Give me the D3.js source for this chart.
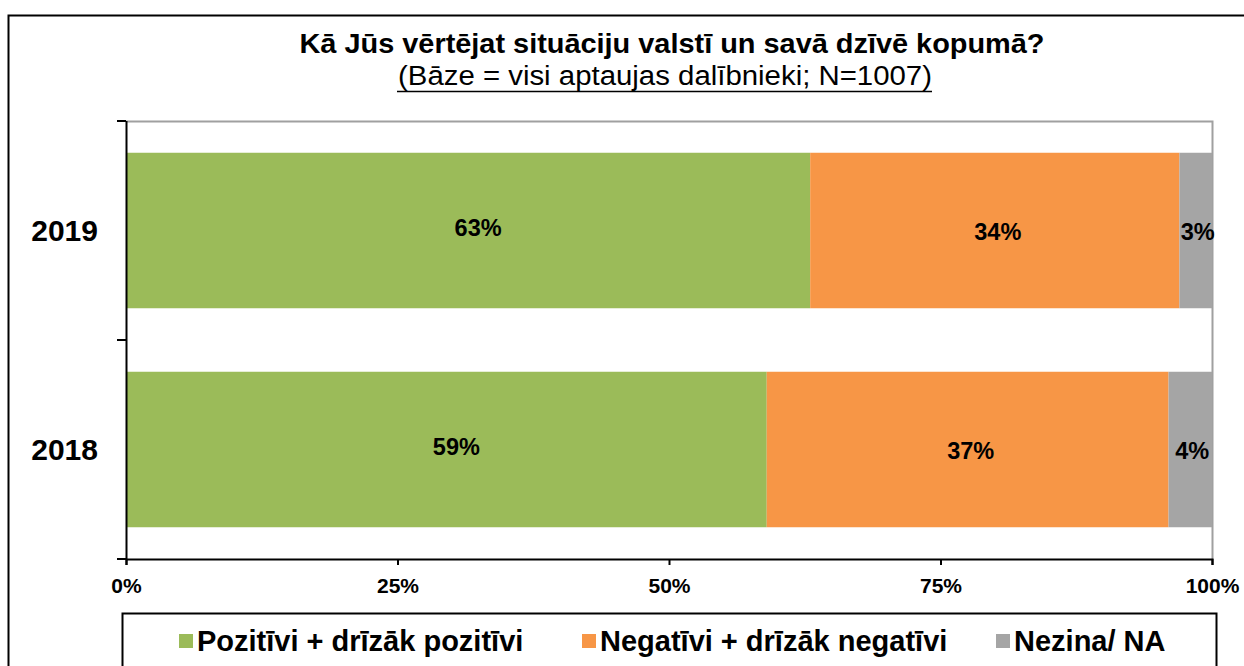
<!DOCTYPE html>
<html>
<head>
<meta charset="utf-8">
<script src="https://cdn.jsdelivr.net/npm/d3@7"></script>
<style>
  html, body { margin: 0; padding: 0; background: #fff; }
  svg { display: block; font-family: "Liberation Sans", Arial, sans-serif; }
</style>
</head>
<body>
<svg id="chart" width="1244" height="666"></svg>
<script>
// Survey answers by year, shares in percent
const years = ["2019", "2018"];
const seriesNames = ["Pozitīvi + drīzāk pozitīvi", "Negatīvi + drīzāk negatīvi", "Nezina/ NA"];
const positive = [63, 59];
const negative = [34, 37];
const unknown = [3, 4];
const xTicks = [0, 25, 50, 75, 100];
const colors = ["#9BBB59", "#F79646", "#A5A5A5"];

const titleText = "Kā Jūs vērtējat situāciju valstī un savā dzīvē kopumā?";
const subtitleText = "(Bāze = visi aptaujas dalībnieki;  N=1007)";

const rows = years.map((y, i) => ({ year: y, v: [positive[i], negative[i], unknown[i]] }));

const svg = d3.select("#chart");
const W = 1244, H = 666;
const plot = { left: 126, right: 1212, top: 121, bottom: 559 };

// outer frame (runs off the right and bottom edges)
svg.append("rect")
  .attr("x", 8.5).attr("y", 15.5).attr("width", W).attr("height", H)
  .attr("fill", "none").attr("stroke", "#000").attr("stroke-width", 2);

// titles: condensed type, fitted to a fixed width
svg.append("text")
  .attr("x", 672).attr("y", 53)
  .attr("text-anchor", "middle")
  .attr("font-weight", "bold").attr("font-size", 28)
  .attr("textLength", 745).attr("lengthAdjust", "spacingAndGlyphs")
  .text(titleText);

svg.append("text")
  .attr("x", 665).attr("y", 85)
  .attr("text-anchor", "middle")
  .attr("font-size", 27)
  .attr("textLength", 534).attr("lengthAdjust", "spacingAndGlyphs")
  .text(subtitleText);
svg.append("line")
  .attr("x1", 397).attr("x2", 932).attr("y1", 91.5).attr("y2", 91.5)
  .attr("stroke", "#000").attr("stroke-width", 1.3);

const x = d3.scaleLinear().domain([0, 100]).range([plot.left, plot.right]);
const y = d3.scaleBand().domain(years).range([plot.top, plot.bottom])
  .paddingInner(0.29).paddingOuter(0.145);

// plot area border (top and right in grey)
svg.append("path")
  .attr("d", `M${plot.left},${plot.top + 0.5}H${plot.right + 0.5}V${plot.bottom}`)
  .attr("fill", "none").attr("stroke", "#A0A0A0").attr("stroke-width", 2);

// stacked bars with centred value labels
const labelShift = [10, 3, 2];
const labelLift = [-3, 1, 1];
rows.forEach(r => {
  let acc = 0;
  r.v.forEach((val, k) => {
    const x0 = x(acc), x1 = x(acc + val);
    svg.append("rect")
      .attr("x", x0).attr("y", y(r.year))
      .attr("width", x1 - x0).attr("height", y.bandwidth())
      .attr("fill", colors[k]);
    svg.append("text")
      .attr("x", (x0 + x1) / 2 + labelShift[k])
      .attr("y", y(r.year) + y.bandwidth() / 2 + labelLift[k])
      .attr("dy", "0.36em")
      .attr("text-anchor", "middle")
      .attr("font-weight", "bold").attr("font-size", 23.5)
      .text(val + "%");
    acc += val;
  });
});

// category axis
const yAxisG = svg.append("g");
yAxisG.append("line")
  .attr("x1", plot.left + 0.5).attr("x2", plot.left + 0.5)
  .attr("y1", plot.top).attr("y2", plot.bottom)
  .attr("stroke", "#000").attr("stroke-width", 2);
const bounds = [plot.top, (plot.top + plot.bottom) / 2, plot.bottom];
yAxisG.selectAll("line.tick").data(bounds).join("line")
  .attr("class", "tick")
  .attr("x1", plot.left - 9).attr("x2", plot.left)
  .attr("y1", d => d).attr("y2", d => d)
  .attr("stroke", "#000").attr("stroke-width", 2);
yAxisG.selectAll("text").data(years).join("text")
  .attr("x", 98).attr("y", d => y(d) + y.bandwidth() / 2)
  .attr("dy", "0.36em")
  .attr("text-anchor", "end")
  .attr("font-weight", "bold").attr("font-size", 30)
  .text(d => d);

// value axis
const xAxis = d3.axisBottom(x).tickValues(xTicks).tickSize(6).tickPadding(13)
  .tickFormat(d => d + "%");
const xg = svg.append("g").attr("transform", `translate(0,${plot.bottom})`).call(xAxis);
xg.select(".domain").attr("stroke", "#000").attr("stroke-width", 2);
xg.selectAll(".tick line").attr("stroke", "#000").attr("stroke-width", 2);
xg.selectAll(".tick text")
  .attr("fill", "#000")
  .attr("font-family", "'Liberation Sans', Arial, sans-serif")
  .attr("font-weight", "bold").attr("font-size", 21);

// legend
svg.append("rect")
  .attr("x", 122.5).attr("y", 613.5).attr("width", 1094).attr("height", 80)
  .attr("fill", "#fff").attr("stroke", "#000").attr("stroke-width", 2);
const legendX = [179, 582, 996];
const lg = svg.append("g").selectAll("g").data(seriesNames).join("g")
  .attr("transform", (d, i) => `translate(${legendX[i]},634)`);
lg.append("rect").attr("width", 14).attr("height", 14).attr("fill", (d, i) => colors[i]);
lg.append("text")
  .attr("x", 18).attr("y", 7).attr("dy", "0.36em")
  .attr("font-weight", "bold").attr("font-size", 29)
  .text(d => d);
</script>
</body>
</html>
